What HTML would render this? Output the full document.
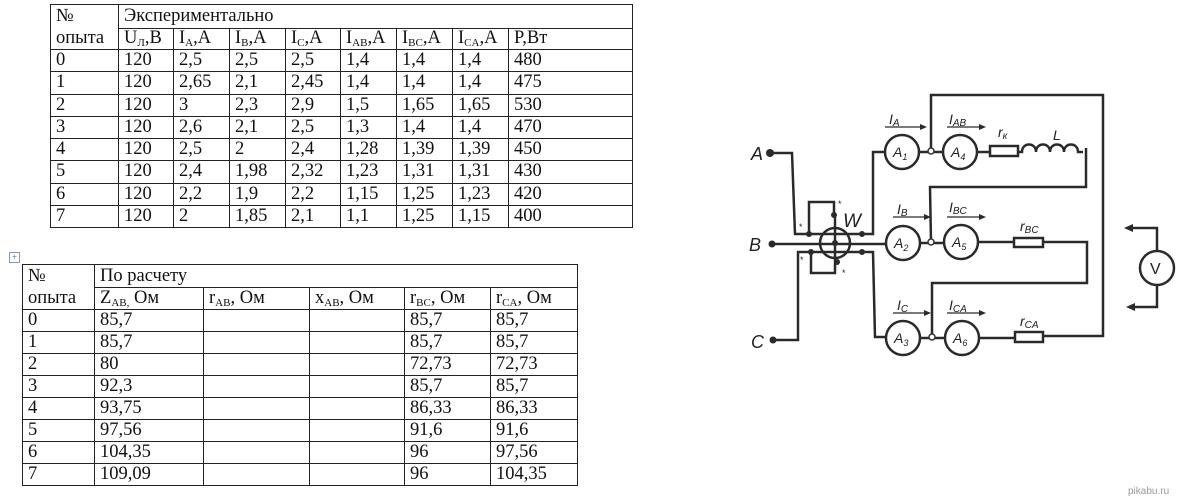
<!DOCTYPE html>
<html><head><meta charset="utf-8"><style>
body{margin:0;width:1179px;height:499px;background:#fff;position:relative;overflow:hidden;font-family:"Liberation Serif",serif;}
table{position:absolute;border-collapse:collapse;table-layout:fixed;font-size:18.5px;color:#111;}
td{border:1px solid #222;padding:0 0 0 5px;white-space:nowrap;overflow:hidden;vertical-align:middle;line-height:19px;}
sub{font-size:11px;vertical-align:-3px;line-height:0}
#t1{left:50px;top:4px;}
#t1 tr{height:22.25px}
#t2{left:22px;top:264px;}
#t2 tr{height:22px}
.move{position:absolute;left:9px;top:252px;width:9px;height:9px;border:1px solid #89a;font-size:9px;line-height:9px;text-align:center;color:#36c}
svg{position:absolute;left:0;top:0}
</style></head><body>
<table id="t1">
<colgroup><col style="width:68px"><col style="width:55px"><col style="width:56px"><col style="width:56px"><col style="width:55px"><col style="width:56px"><col style="width:56px"><col style="width:56px"><col style="width:124px"></colgroup>
<tr style="height:23px"><td rowspan="2" style="vertical-align:top;line-height:22px">№<br>опыта</td><td colspan="8">Экспериментально</td></tr>
<tr style="height:21px"><td>U<sub>Л</sub>,В</td><td>I<sub>A</sub>,A</td><td>I<sub>B</sub>,A</td><td>I<sub>C</sub>,A</td><td>I<sub>AB</sub>,A</td><td>I<sub>BC</sub>,A</td><td>I<sub>CA</sub>,A</td><td>P,Вт</td></tr>
<tr><td>0</td><td>120</td><td>2,5</td><td>2,5</td><td>2,5</td><td>1,4</td><td>1,4</td><td>1,4</td><td>480</td></tr>
<tr><td>1</td><td>120</td><td>2,65</td><td>2,1</td><td>2,45</td><td>1,4</td><td>1,4</td><td>1,4</td><td>475</td></tr>
<tr><td>2</td><td>120</td><td>3</td><td>2,3</td><td>2,9</td><td>1,5</td><td>1,65</td><td>1,65</td><td>530</td></tr>
<tr><td>3</td><td>120</td><td>2,6</td><td>2,1</td><td>2,5</td><td>1,3</td><td>1,4</td><td>1,4</td><td>470</td></tr>
<tr><td>4</td><td>120</td><td>2,5</td><td>2</td><td>2,4</td><td>1,28</td><td>1,39</td><td>1,39</td><td>450</td></tr>
<tr><td>5</td><td>120</td><td>2,4</td><td>1,98</td><td>2,32</td><td>1,23</td><td>1,31</td><td>1,31</td><td>430</td></tr>
<tr><td>6</td><td>120</td><td>2,2</td><td>1,9</td><td>2,2</td><td>1,15</td><td>1,25</td><td>1,23</td><td>420</td></tr>
<tr><td>7</td><td>120</td><td>2</td><td>1,85</td><td>2,1</td><td>1,1</td><td>1,25</td><td>1,15</td><td>400</td></tr>
</table>
<div class="move">+</div>
<table id="t2">
<colgroup><col style="width:72px"><col style="width:109px"><col style="width:106px"><col style="width:95px"><col style="width:86px"><col style="width:87px"></colgroup>
<tr style="height:23px"><td rowspan="2" style="vertical-align:top;line-height:22px">№<br>опыта</td><td colspan="5">По расчету</td></tr>
<tr><td>Z<sub>AB,</sub> Ом</td><td>r<sub>AB</sub>, Ом</td><td>x<sub>AB</sub>, Ом</td><td>r<sub>BC</sub>, Ом</td><td>r<sub>CA</sub>, Ом</td></tr>
<tr><td>0</td><td>85,7</td><td></td><td></td><td>85,7</td><td>85,7</td></tr>
<tr><td>1</td><td>85,7</td><td></td><td></td><td>85,7</td><td>85,7</td></tr>
<tr><td>2</td><td>80</td><td></td><td></td><td>72,73</td><td>72,73</td></tr>
<tr><td>3</td><td>92,3</td><td></td><td></td><td>85,7</td><td>85,7</td></tr>
<tr><td>4</td><td>93,75</td><td></td><td></td><td>86,33</td><td>86,33</td></tr>
<tr><td>5</td><td>97,56</td><td></td><td></td><td>91,6</td><td>91,6</td></tr>
<tr><td>6</td><td>104,35</td><td></td><td></td><td>96</td><td>97,56</td></tr>
<tr><td>7</td><td>109,09</td><td></td><td></td><td>96</td><td>104,35</td></tr>
</table>
<svg width="1179" height="499" viewBox="0 0 1179 499">
<g fill="none" stroke="#2a2a2a" stroke-width="2.5">
<polyline points="770,153 792,153 795,234 863,234 873,234 873,152 885,152"/>
<line x1="772" y1="244" x2="886" y2="244"/>
<polyline points="773,340 798,340 798,252 863,252 873,252 875,337 886,337"/>
<circle cx="835" cy="243" r="15"/>
<polyline points="809,234 809,202 834,202 834,215"/>
<polyline points="811,252 811,273 835,273 835,262"/>
<line x1="835" y1="215" x2="835" y2="262"/>
<line x1="919" y1="152" x2="943" y2="152"/>
<line x1="977" y1="152" x2="990" y2="152"/>
<rect x="990" y="146" width="28" height="10"/>
<path d="M1018,152 h4 c0,-10 14,-10 14,0 c0,-10 14,-10 14,0 c0,-10 14,-10 14,0 c0,-10 14,-10 14,0 h5"/>
<polyline points="1086,148 1086,187 930,187 931,242"/>
<polyline points="931,151 931,95 1103,95 1103,336 1043,336"/>
<line x1="920" y1="243" x2="944" y2="243"/>
<line x1="978" y1="242" x2="1014" y2="242"/>
<rect x="1014" y="238" width="29" height="9"/>
<polyline points="1043,242 1087,242 1087,283 932,283 932,337"/>
<line x1="920" y1="338" x2="945" y2="338"/>
<line x1="979" y1="338" x2="1015" y2="338"/>
<rect x="1015" y="332" width="28" height="10"/>
<circle cx="902" cy="152" r="17"/><circle cx="960" cy="152" r="17"/>
<circle cx="903" cy="243" r="17"/><circle cx="961" cy="242" r="17"/>
<circle cx="903" cy="338" r="17"/><circle cx="962" cy="338" r="17"/>
<circle cx="1157" cy="268" r="17"/>
<polyline points="1157,251 1157,228 1130,228"/>
<polyline points="1157,285 1157,307 1132,307"/>
<g stroke-width="1.3">
<line x1="885" y1="127" x2="920" y2="127"/><line x1="947" y1="127" x2="979" y2="127"/>
<line x1="893" y1="217" x2="924" y2="217"/><line x1="947" y1="217" x2="979" y2="217"/>
<line x1="893" y1="313" x2="924" y2="313"/><line x1="947" y1="313" x2="979" y2="313"/>
</g>
</g>
<g fill="#2a2a2a">
<circle cx="770" cy="153" r="4"/><circle cx="772" cy="244" r="3.5"/><circle cx="773" cy="340" r="3.5"/>
<circle cx="931" cy="151" r="3" fill="#fff" stroke="#333" stroke-width="1.5"/>
<circle cx="931" cy="242" r="3" fill="#fff" stroke="#333" stroke-width="1.5"/>
<circle cx="932" cy="337" r="3" fill="#fff" stroke="#333" stroke-width="1.5"/>
<circle cx="809" cy="234" r="3"/><circle cx="811" cy="252" r="3"/><circle cx="835" cy="243" r="3"/>
<circle cx="834" cy="215" r="3"/><circle cx="837" cy="262" r="3"/>
<circle cx="862" cy="234" r="3"/><circle cx="862" cy="252" r="3"/>
<polygon points="920,124 927,127 920,130"/><polygon points="979,124 986,127 979,130"/>
<polygon points="924,214 931,217 924,220"/><polygon points="979,214 986,217 979,220"/>
<polygon points="924,310 931,313 924,316"/><polygon points="979,310 986,313 979,316"/>
<polygon points="1124,228 1133,224 1133,232"/><polygon points="1126,307 1135,303 1135,311"/>
</g>
<g font-family="Liberation Sans, sans-serif" font-style="italic" fill="#222">
<text x="751" y="160" font-size="18">A</text>
<text x="749" y="251" font-size="18">B</text>
<text x="751" y="348" font-size="18">C</text>
<text x="843" y="227" font-size="19">W</text>
<text x="1150" y="274" font-size="16" font-style="normal">V</text>
<g font-size="14">
<text x="893" y="157">A<tspan font-size="9" dy="3">1</tspan></text>
<text x="951" y="157">A<tspan font-size="9" dy="3">4</tspan></text>
<text x="894" y="248">A<tspan font-size="9" dy="3">2</tspan></text>
<text x="952" y="247">A<tspan font-size="9" dy="3">5</tspan></text>
<text x="894" y="343">A<tspan font-size="9" dy="3">3</tspan></text>
<text x="953" y="343">A<tspan font-size="9" dy="3">6</tspan></text>
<text x="889" y="124">I<tspan font-size="10" dy="2">A</tspan></text>
<text x="949" y="124">I<tspan font-size="10" dy="2">AB</tspan></text>
<text x="897" y="214">I<tspan font-size="10" dy="2">B</tspan></text>
<text x="949" y="212">I<tspan font-size="10" dy="2">BC</tspan></text>
<text x="897" y="310">I<tspan font-size="10" dy="2">C</tspan></text>
<text x="949" y="310">I<tspan font-size="10" dy="2">CA</tspan></text>
<text x="998" y="137">r<tspan font-size="10" dy="2">к</tspan></text>
<text x="1053" y="140">L</text>
<text x="1020" y="231">r<tspan font-size="10" dy="2">BC</tspan></text>
<text x="1020" y="326">r<tspan font-size="10" dy="2">CA</tspan></text>
</g>
<g font-size="9" font-style="normal"><text x="799" y="230">*</text><text x="838" y="207">*</text><text x="800" y="263">*</text><text x="842" y="276">*</text></g>
</g>
<text x="1128" y="494" font-family="Liberation Sans, sans-serif" font-size="10" fill="#999">pikabu.ru</text>
</svg>
</body></html>
